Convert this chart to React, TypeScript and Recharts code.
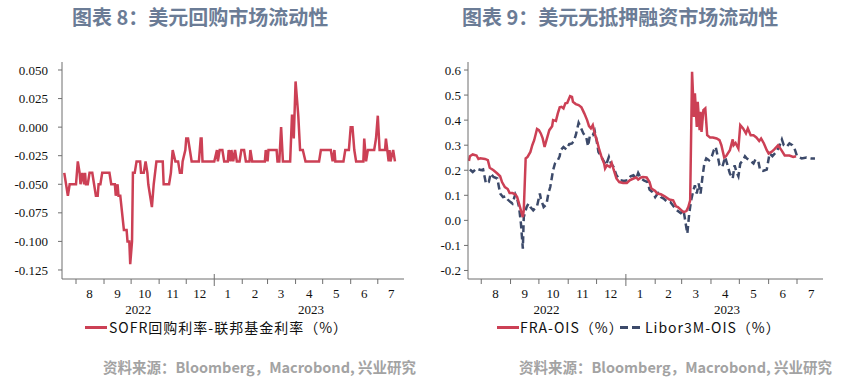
import { LineChart, Line, XAxis, YAxis } from "recharts"

const monthStarts = [31, 62, 92, 123, 153, 184, 215, 243, 274, 304, 335, 365]
const monthMids = [46, 77, 107, 138, 168, 199, 229, 258, 289, 319, 350, 380]
const monthLabels = ["8", "9", "10", "11", "12", "1", "2", "3", "4", "5", "6", "7"]
const yearMids = [100, 291]
const yearLabels = ["2022", "2023"]
const yearStart = 184

const leftTicks = [-0.125, -0.1, -0.075, -0.05, -0.025, 0, 0.025, 0.05]
const rightTicks = [-0.2, -0.1, 0, 0.1, 0.2, 0.3, 0.4, 0.5, 0.6]

// SOFR - fed funds, days counted from 2022-07-01
const sofrDays = [
  18, 20, 22, 24, 31, 33, 35, 36, 38, 40,
  41, 42, 44, 46, 49, 51, 53, 55, 56, 58,
  60, 68, 70, 74, 75, 77, 78, 80, 84, 87,
  88, 90, 91, 93, 94, 96, 98, 102, 103, 106,
  108, 110, 111, 113, 115, 117, 120, 127, 128, 134,
  136, 137, 138, 141, 144, 146, 148, 149, 152, 153,
  155, 157, 159, 167, 169, 170, 171, 184, 187, 188,
  190, 193, 195, 199, 200, 202, 203, 205, 207, 209,
  212, 214, 217, 219, 223, 224, 226, 240, 241, 243,
  244, 253, 254, 256, 258, 260, 268, 270, 271, 272,
  274, 277, 279, 282, 285, 300, 302, 313, 315, 317,
  318, 327, 329, 333, 335, 337, 339, 341, 349, 350,
  352, 354, 361, 363, 365, 367, 373, 374, 377, 378,
  379, 382, 384,
]
const sofrValues = [
  -0.04, -0.05, -0.06, -0.05, -0.05, -0.03, -0.04, -0.05, -0.04, -0.05,
  -0.04, -0.05, -0.05, -0.04, -0.04, -0.05, -0.06, -0.06, -0.05, -0.05,
  -0.04, -0.04, -0.05, -0.05, -0.06, -0.05, -0.06, -0.06, -0.09, -0.09,
  -0.1, -0.1, -0.12, -0.1, -0.04, -0.04, -0.03, -0.03, -0.04, -0.04,
  -0.03, -0.04, -0.05, -0.06, -0.07, -0.05, -0.03, -0.03, -0.05, -0.05,
  -0.04, -0.03, -0.02, -0.03, -0.03, -0.04, -0.04, -0.03, -0.02, -0.01,
  -0.01, -0.02, -0.03, -0.03, -0.01, -0.01, -0.03, -0.03, -0.02, -0.03,
  -0.02, -0.02, -0.03, -0.03, -0.02, -0.03, -0.02, -0.03, -0.02, -0.03,
  -0.03, -0.02, -0.02, -0.03, -0.03, -0.02, -0.03, -0.03, -0.02, -0.03,
  -0.02, -0.02, -0.03, -0.03, 0.0, -0.03, -0.03, 0.01, 0.01, -0.01,
  0.04, 0.01, -0.02, -0.02, -0.03, -0.03, -0.02, -0.02, -0.03, -0.02,
  -0.03, -0.03, -0.02, -0.02, 0.0, 0.0, -0.02, -0.03, -0.03, -0.01,
  -0.03, -0.02, -0.02, -0.01, 0.01, -0.02, -0.02, -0.01, -0.03, -0.02,
  -0.03, -0.02, -0.03,
]

const fraDays = [
  18, 19, 22, 26, 28, 30, 35, 38, 40, 44,
  48, 51, 53, 56, 59, 61, 64, 67, 69, 72,
  75, 76, 78, 80, 83, 85, 87, 90, 92, 94,
  96, 98, 100, 103, 106, 107, 110, 112, 114, 116,
  118, 120, 122, 125, 127, 128, 131, 134, 137, 140,
  143, 145, 147, 149, 151, 154, 156, 158, 161, 162,
  164, 167, 169, 171, 174, 177, 181, 185, 188, 192,
  195, 197, 200, 202, 206, 209, 211, 215, 217, 221,
  225, 230, 234, 237, 239, 242, 245, 248, 250, 252,
  254, 256, 257, 259, 260, 262, 263, 264, 266, 268,
  270, 273, 276, 280, 283, 285, 288, 290, 294, 297,
  298, 300, 303, 305, 308, 311, 313, 316, 319, 322,
  325, 327, 330, 333, 335, 338, 341, 345, 348, 352,
  357, 361, 364,
]
const fraValues = [
  0.237, 0.256, 0.263, 0.259, 0.245, 0.248, 0.245, 0.24, 0.21, 0.2,
  0.187, 0.176, 0.153, 0.133, 0.125, 0.109, 0.109, 0.104, 0.093, 0.053,
  0.013, 0.04, 0.247, 0.253, 0.273, 0.3, 0.32, 0.365, 0.36, 0.347,
  0.327, 0.293, 0.32, 0.36, 0.376, 0.4, 0.397, 0.427, 0.451, 0.453,
  0.447, 0.467, 0.469, 0.496, 0.493, 0.473, 0.464, 0.46, 0.451, 0.427,
  0.4, 0.376, 0.367, 0.38, 0.347, 0.309, 0.28, 0.256, 0.227, 0.207,
  0.22, 0.213, 0.229, 0.203, 0.167, 0.153, 0.149, 0.149, 0.16, 0.167,
  0.171, 0.163, 0.171, 0.173, 0.171, 0.153, 0.127, 0.117, 0.107, 0.104,
  0.096, 0.083, 0.08, 0.056, 0.053, 0.043, 0.033, 0.037, 0.053, 0.08,
  0.593, 0.413, 0.507, 0.373, 0.473, 0.36, 0.433, 0.353, 0.44, 0.447,
  0.34, 0.331, 0.331, 0.327, 0.32, 0.3, 0.251, 0.256, 0.28, 0.323,
  0.3, 0.309, 0.287, 0.38, 0.367, 0.347, 0.367, 0.34, 0.34, 0.331,
  0.317, 0.327, 0.307, 0.28, 0.267, 0.273, 0.283, 0.3, 0.283, 0.259,
  0.259, 0.253, 0.256,
]

const liborDays = [
  19, 22, 26, 31, 33, 36, 39, 41, 44, 48,
  51, 54, 57, 59, 62, 64, 67, 69, 71, 73,
  75, 76, 79, 81, 83, 86, 90, 93, 94, 97,
  100, 102, 104, 107, 109, 112, 114, 115, 118, 121,
  124, 127, 129, 131, 134, 136, 139, 142, 144, 146,
  149, 151, 153, 155, 158, 161, 163, 166, 168, 171,
  174, 178, 182, 186, 189, 192, 195, 197, 200, 203,
  207, 209, 212, 215, 218, 221, 224, 228, 231, 235,
  238, 242, 245, 247, 249, 251, 253, 255, 257, 259,
  261, 263, 265, 267, 269, 272, 275, 277, 279, 282,
  283, 286, 289, 291, 294, 297, 299, 301, 303, 305,
  308, 310, 312, 315, 319, 321, 324, 326, 329, 333,
  336, 339, 343, 346, 349, 351, 354, 357, 360, 363,
  365, 370, 375, 380, 384,
]
const liborValues = [
  0.203, 0.193, 0.207, 0.2, 0.203, 0.147, 0.153, 0.187, 0.173, 0.167,
  0.107, 0.093, 0.096, 0.083, 0.073, 0.067, 0.104, 0.087, 0.053, -0.013,
  -0.113, 0.013, 0.053, 0.067, 0.053, 0.04, 0.056, 0.107, 0.087, 0.053,
  0.064, 0.107, 0.133, 0.2, 0.227, 0.24, 0.256, 0.28, 0.293, 0.283,
  0.304, 0.307, 0.317, 0.34, 0.389, 0.373, 0.347, 0.333, 0.296, 0.34,
  0.34, 0.357, 0.32, 0.273, 0.253, 0.233, 0.22, 0.253, 0.229, 0.213,
  0.18, 0.16, 0.157, 0.16, 0.176, 0.18, 0.167, 0.189, 0.167, 0.16,
  0.153, 0.123, 0.113, 0.093, 0.109, 0.093, 0.087, 0.073, 0.073, 0.053,
  0.04, 0.029, 0.04, -0.007, -0.053, 0.027, 0.08, 0.113, 0.14, 0.107,
  0.147, 0.107, 0.173, 0.227, 0.247, 0.24, 0.256, 0.28, 0.293, 0.24,
  0.22, 0.213, 0.253, 0.227, 0.187, 0.167, 0.22, 0.193, 0.176, 0.227,
  0.24, 0.256, 0.247, 0.24, 0.227, 0.243, 0.237, 0.2, 0.197, 0.203,
  0.267, 0.256, 0.273, 0.293, 0.323, 0.3, 0.293, 0.307, 0.3, 0.28,
  0.256, 0.247, 0.251, 0.247, 0.247,
]

const sofrData = sofrDays.map((d, i) => ({ d, v: sofrValues[i] }))
const fraData = fraDays.map((d, i) => ({ d, v: fraValues[i] }))
const liborData = liborDays.map((d, i) => ({ d, v: liborValues[i] }))

const RED = "#cc4055"
const NAVY = "#3c4a6a"
const AXIS = "#6f6f6f"
const serif = "'Liberation Serif', 'Times New Roman', serif"
const cjk = "'Noto Sans CJK SC', sans-serif"

const xTicks = [...monthStarts, ...monthMids, ...yearMids]

const MonthTick = (props: any) => {
  const { x, y, payload } = props
  const v = payload.value
  if (monthStarts.includes(v)) {
    const big = v === yearStart
    return <line x1={x} x2={x} y1={big ? y - 5 : y} y2={y + (big ? 7 : 5)} stroke={AXIS} strokeWidth={1} />
  }
  const mi = monthMids.indexOf(v)
  if (mi >= 0)
    return (
      <text x={x} y={y + 19} textAnchor="middle" fontFamily={serif} fontSize={13} fill="#111">
        {monthLabels[mi]}
      </text>
    )
  const yi = yearMids.indexOf(v)
  if (yi >= 0)
    return (
      <text x={x} y={y + 35} textAnchor="middle" fontFamily={serif} fontSize={13} fill="#111">
        {yearLabels[yi]}
      </text>
    )
  return null
}

const titleStyle = {
  position: "absolute" as const,
  top: 5,
  fontFamily: cjk,
  fontWeight: 700,
  fontSize: 20,
  lineHeight: "24px",
  color: "#6b7c96",
  whiteSpace: "nowrap" as const,
}
const sourceStyle = {
  position: "absolute" as const,
  top: 357,
  fontFamily: cjk,
  fontWeight: 700,
  fontSize: 14.5,
  lineHeight: "20px",
  color: "#a3a3a3",
  whiteSpace: "nowrap" as const,
}
const legendText = {
  position: "absolute" as const,
  top: 320,
  fontFamily: cjk,
  fontSize: 14,
  lineHeight: "14px",
  color: "#111",
  letterSpacing: 1,
  whiteSpace: "nowrap" as const,
}

export default function App() {
  return (
    <div style={{ position: "absolute", left: 0, top: 0, width: 845, height: 387, background: "#fff" }}>
      <div style={{ ...titleStyle, left: 72 }}>图表 8：美元回购市场流动性</div>
      <div style={{ ...titleStyle, left: 462 }}>图表 9：美元无抵押融资市场流动性</div>

      <div style={{ position: "absolute", left: 0, top: 0 }}>
        <LineChart width={420} height={320} data={sofrData} margin={{ top: 62, right: 16, bottom: 21, left: 7 }}>
          <XAxis
            dataKey="d"
            type="number"
            domain={[15.5, 394]}
            ticks={xTicks}
            interval={0}
            tickLine={false}
            tickSize={0}
            tickMargin={0}
            tick={(p: any) => <MonthTick {...p} />}
            axisLine={{ stroke: AXIS }}
            height={20}
            allowDataOverflow
          />
          <YAxis
            type="number"
            domain={[-0.1329, 0.057]}
            ticks={leftTicks}
            interval={0}
            width={55}
            tickSize={4}
            tickMargin={10}
            tickFormatter={(v: number) => v.toFixed(3)}
            tick={{ fontFamily: serif, fontSize: 13, fill: "#111" }}
            axisLine={{ stroke: AXIS }}
            tickLine={{ stroke: AXIS }}
            allowDataOverflow
          />
          <Line dataKey="v" type="linear" stroke={RED} strokeWidth={2.5} dot={false} isAnimationActive={false} />
        </LineChart>
      </div>

      <div style={{ position: "absolute", left: 420, top: 0 }}>
        <LineChart width={425} height={320} margin={{ top: 62, right: 22, bottom: 21, left: 8 }}>
          <XAxis
            dataKey="d"
            type="number"
            domain={[17, 392.5]}
            ticks={xTicks}
            interval={0}
            tickLine={false}
            tickSize={0}
            tickMargin={0}
            tick={(p: any) => <MonthTick {...p} />}
            axisLine={{ stroke: AXIS }}
            height={20}
            allowDataOverflow
          />
          <YAxis
            type="number"
            domain={[-0.234, 0.632]}
            ticks={rightTicks}
            interval={0}
            width={40}
            tickSize={4}
            tickMargin={3}
            tickFormatter={(v: number) => v.toFixed(1)}
            tick={{ fontFamily: serif, fontSize: 13, fill: "#111" }}
            axisLine={{ stroke: AXIS }}
            tickLine={{ stroke: AXIS }}
            allowDataOverflow
          />
          <Line data={liborData} dataKey="v" type="linear" stroke={NAVY} strokeWidth={2.5} strokeDasharray="7 4" dot={false} isAnimationActive={false} />
          <Line data={fraData} dataKey="v" type="linear" stroke={RED} strokeWidth={2.5} dot={false} isAnimationActive={false} />
        </LineChart>
      </div>

      <div style={{ position: "absolute", left: 85, top: 325.5, width: 22, height: 3, background: RED }} />
      <div style={{ ...legendText, left: 109 }}>SOFR回购利率-联邦基金利率（%）</div>

      <div style={{ position: "absolute", left: 497, top: 325.5, width: 22, height: 3, background: RED }} />
      <div style={{ ...legendText, left: 520 }}>FRA-OIS（%）</div>
      <div style={{ position: "absolute", left: 620, top: 325.5, width: 8, height: 3, background: NAVY }} />
      <div style={{ position: "absolute", left: 632, top: 325.5, width: 8, height: 3, background: NAVY }} />
      <div style={{ ...legendText, left: 645 }}>Libor3M-OIS（%）</div>

      <div style={{ ...sourceStyle, left: 103 }}>资料来源：Bloomberg，Macrobond, 兴业研究</div>
      <div style={{ ...sourceStyle, left: 519 }}>资料来源：Bloomberg，Macrobond, 兴业研究</div>
    </div>
  )
}
